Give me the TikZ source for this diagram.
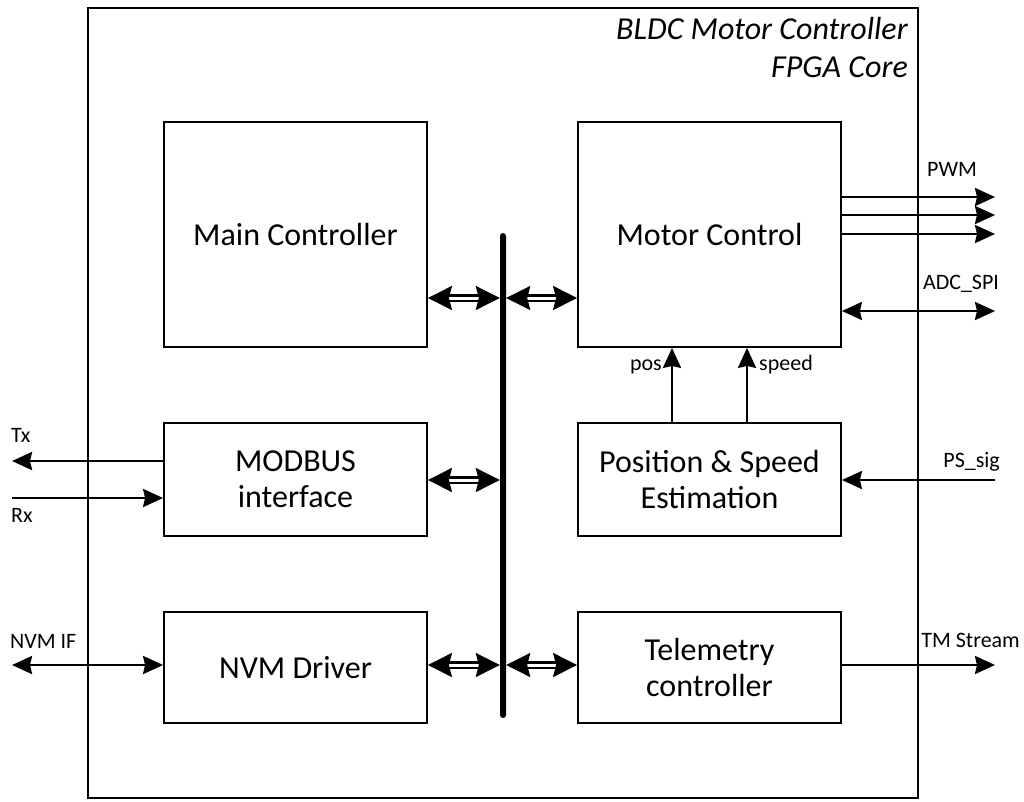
\documentclass[tikz,border=0pt]{standalone}
\usepackage{fontspec}
\setmainfont{Carlito}
\usetikzlibrary{arrows.meta}
\begin{document}
\begin{tikzpicture}[x=1pt,y=-1pt,
  box/.style={draw, line width=1.8pt, minimum width=263pt, inner sep=0pt, align=center, font=\fontsize{32}{36}\selectfont},
  sig/.style={line width=2.6pt, -{Stealth[length=20pt,width=18pt,inset=2pt]}},
  bisig/.style={line width=2.6pt, {Stealth[length=20pt,width=18pt,inset=2pt]}-{Stealth[length=20pt,width=18pt,inset=2pt]}},
  dbl/.style={double, double distance=3pt, line width=2.2pt, {Stealth[length=24pt,width=24pt,inset=3pt]}-{Stealth[length=24pt,width=24pt,inset=3pt]}},
  lbl/.style={inner sep=0pt, font=\fontsize{22}{26}\selectfont},
]
\useasboundingbox (0,0) rectangle (1024,801);
% outer frame
\node[draw, line width=1.8pt, minimum width=830pt, minimum height=790pt, inner sep=0pt] (frame) at (503,403) {};
\node[anchor=north east, align=right, inner sep=0pt, font=\itshape\fontsize{32}{38}\selectfont] (title) at (908,17) {BLDC Motor Controller\\FPGA Core};

% blocks
\node[box, minimum height=225pt] (main) at (295.5,234.5) {Main Controller};
\node[box, minimum height=225pt] (motor) at (709.5,234.5) {Motor Control};
\node[box, minimum height=113pt] (modbus) at (295.5,479.5) {MODBUS\\interface};
\node[box, minimum height=113pt] (pse) at (709.5,479.5) {Position \& Speed\\Estimation};
\node[box, minimum height=111pt] (nvm) at (295.5,667.5) {NVM Driver};
\node[box, minimum height=111pt] (tele) at (709.5,667.5) {Telemetry\\controller};

% bus
\node[fill=black, minimum width=6pt, minimum height=485pt, inner sep=0pt, rounded corners=3pt] (bus) at (503,475.5) {};

% bus connections
\draw[dbl] (main.east |- 0,298) -- (bus.west |- 0,298);
\draw[dbl] (bus.east |- 0,298) -- (motor.west |- 0,298);
\draw[dbl] (modbus.east |- 0,480) -- (bus.west |- 0,480);
\draw[dbl] (nvm.east |- 0,665) -- (bus.west |- 0,665);
\draw[dbl] (bus.east |- 0,665) -- (tele.west |- 0,665);

% internal signals
\draw[sig] (pse.north -| 672,0) -- (motor.south -| 672,0);
\draw[sig] (pse.north -| 747,0) -- (motor.south -| 747,0);
\node[lbl, anchor=mid east] (poslbl) at (662,368) {pos};
\node[lbl, anchor=mid west] (speedlbl) at (759,368) {speed};

% external coordinates
\coordinate (txend) at (12,461);
\coordinate (rxstart) at (12,498);
\coordinate (nvmend) at (12,665);
\coordinate (pwmA) at (995,197);
\coordinate (pwmB) at (995,215);
\coordinate (pwmC) at (995,234);
\coordinate (adcend) at (995,311);
\coordinate (psstart) at (995,480);
\coordinate (tmend) at (995,665);

\draw[sig] (modbus.west |- txend) -- (txend);
\draw[sig] (rxstart) -- (modbus.west |- rxstart);
\draw[bisig] (nvmend) -- (nvm.west |- nvmend);
\draw[sig] (motor.east |- pwmA) -- (pwmA);
\draw[sig] (motor.east |- pwmB) -- (pwmB);
\draw[sig] (motor.east |- pwmC) -- (pwmC);
\draw[bisig] (motor.east |- adcend) -- (adcend);
\draw[sig] (psstart) -- (pse.east |- psstart);
\draw[sig] (tele.east |- tmend) -- (tmend);

% labels
\node[lbl, anchor=mid west] (txlbl) at (11,440) {Tx};
\node[lbl, anchor=mid west] (rxlbl) at (11,520) {Rx};
\node[lbl, anchor=mid west] (nvmlbl) at (10,646) {NVM IF};
\node[lbl, anchor=mid] (pwmlbl) at (952,174) {PWM};
\node[lbl, anchor=mid] (adclbl) at (961,287) {ADC\_SPI};
\node[lbl, anchor=mid east] (pslbl) at (1000,465) {PS\_sig};
\node[lbl, anchor=mid east] (tmlbl) at (1020,645) {TM Stream};
\end{tikzpicture}
\end{document}
